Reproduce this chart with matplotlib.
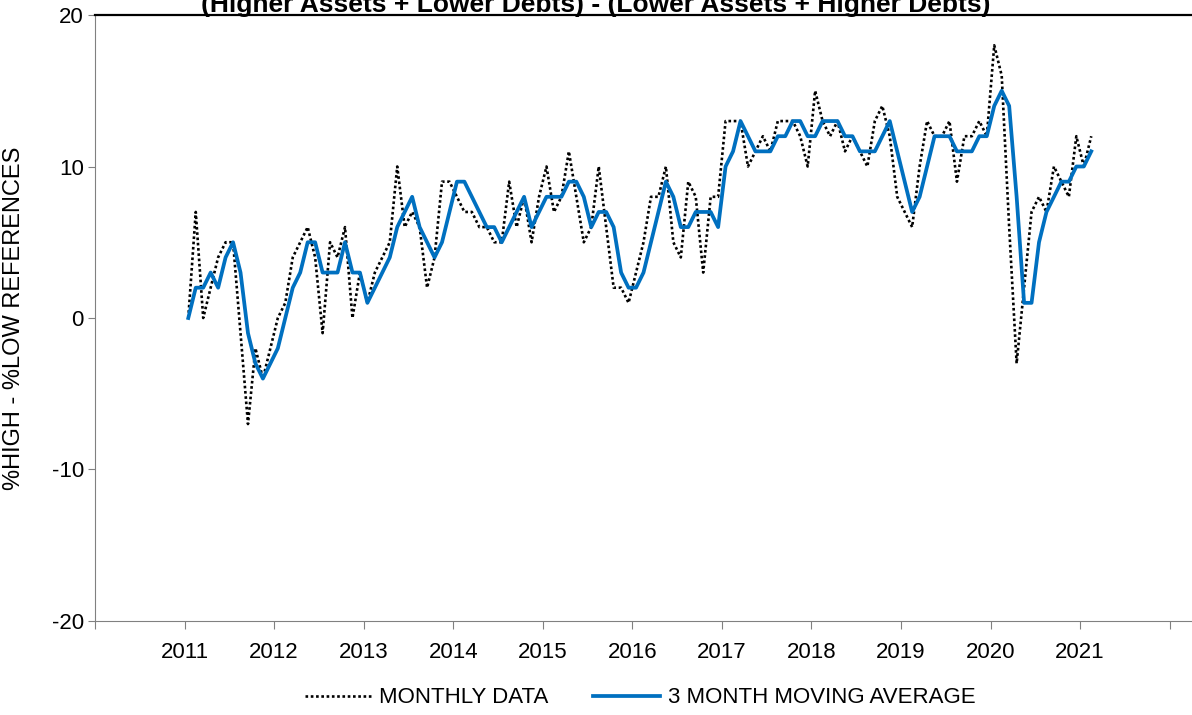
import numpy as np
import pandas as pd
import matplotlib
matplotlib.use("Agg")
import matplotlib.pyplot as plt

plt.rcParams['font.family'] = ['Liberation Sans', 'DejaVu Sans']

# monthly readings, Jan 2011 .. Feb 2021
monthly = [0, 7, 0, 2, 4, 5, 5, -1, -7, -2, -4, -2,
           0, 1, 4, 5, 6, 4, -1, 5, 4, 6, 0, 3,
           1, 3, 4, 5, 10, 6, 7, 6, 2, 4, 9, 9,
           8, 7, 7, 6, 6, 5, 5, 9, 6, 8, 5, 8,
           10, 7, 8, 11, 8, 5, 6, 10, 6, 2, 2, 1,
           3, 5, 8, 8, 10, 5, 4, 9, 8, 3, 8, 8,
           13, 13, 13, 10, 11, 12, 11, 13, 13, 13, 12, 10,
           15, 13, 12, 13, 11, 12, 11, 10, 13, 14, 12, 8,
           7, 6, 10, 13, 12, 12, 13, 9, 12, 12, 13, 12,
           18, 16, 6, -3, 2, 7, 8, 7, 10, 9, 8, 12,
           10, 12]
moving_avg = [0, 2, 2, 3, 2, 4, 5, 3, -1, -3, -4, -3,
              -2, 0, 2, 3, 5, 5, 3, 3, 3, 5, 3, 3,
              1, 2, 3, 4, 6, 7, 8, 6, 5, 4, 5, 7,
              9, 9, 8, 7, 6, 6, 5, 6, 7, 8, 6, 7,
              8, 8, 8, 9, 9, 8, 6, 7, 7, 6, 3, 2,
              2, 3, 5, 7, 9, 8, 6, 6, 7, 7, 7, 6,
              10, 11, 13, 12, 11, 11, 11, 12, 12, 13, 13, 12,
              12, 13, 13, 13, 12, 12, 11, 11, 11, 12, 13, 11,
              9, 7, 8, 10, 12, 12, 12, 11, 11, 11, 12, 12,
              14, 15, 14, 8, 1, 1, 5, 7, 8, 9, 9, 10,
              10, 11]

dates = pd.date_range('2011-01-01', periods=len(monthly), freq='MS')
x = dates.year + (dates.month - 0.5) / 12.0

years = list(range(2010, 2023))
year_labels = ['' if y in (2010, 2022) else str(y) for y in years]
y_ticks = [-20, -10, 0, 10, 20]

fig = plt.figure(figsize=(11.92, 7.15), dpi=100)
ax = fig.add_axes([0.0797, 0.1315, 0.9203, 0.8475])

ax.plot(x, monthly, color='black', lw=1.9, linestyle=(0, (1, 1.0)),
        label='MONTHLY DATA')
ax.plot(x, moving_avg, color='#0070C0', lw=2.7, label='3 MONTH MOVING AVERAGE')

ax.set_xlim(2010, 2022.25)
ax.set_ylim(-20, 20)
ax.set_xticks(years)
ax.set_xticklabels(year_labels, fontsize=16)
ax.set_yticks(y_ticks)
ax.set_yticklabels([str(v) for v in y_ticks], fontsize=16)
ax.tick_params(axis='x', direction='out', length=6, color='#808080', pad=9)
ax.tick_params(axis='y', direction='out', length=5, color='#808080', pad=3)

ax.spines['right'].set_visible(False)
ax.spines['left'].set_color('#808080')
ax.spines['bottom'].set_color('#808080')
ax.spines['top'].set_color('black')
ax.spines['top'].set_linewidth(1.6)

ax.set_ylabel('%HIGH - %LOW REFERENCES', fontsize=17)
ax.yaxis.set_label_coords(-0.064, 0.5)

fig.text(0.5, 0.983, '(Higher Assets + Lower Debts) - (Lower Assets + Higher Debts)',
         ha='center', va='baseline', fontsize=19, fontweight='bold')

fig.legend(loc='center', bbox_to_anchor=(0.537, 0.024), ncol=2, frameon=False,
           fontsize=16, handlelength=3.0, handletextpad=0.35, columnspacing=2.0)

fig.savefig('out.png', dpi=100)
